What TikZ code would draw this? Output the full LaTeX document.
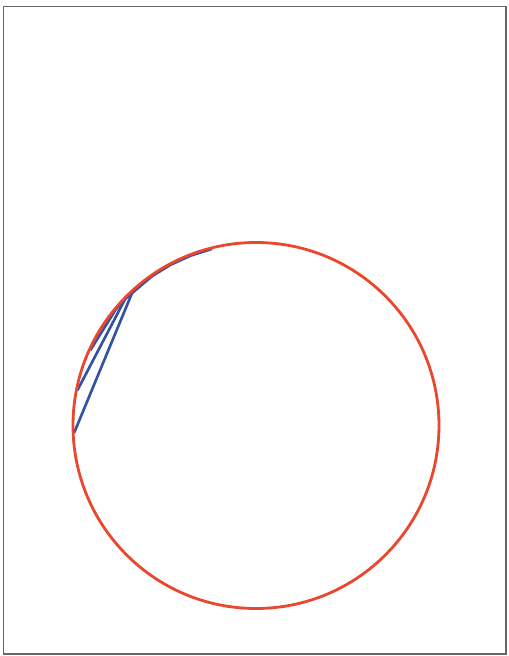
\documentclass[tikz,border=0pt]{standalone}
\usetikzlibrary{calc}
\definecolor{circred}{RGB}{234,72,46}
\definecolor{chordblue}{RGB}{52,82,162}
\begin{document}
\begin{tikzpicture}[
    x=0.02cm, y=0.02cm,
    % styles
    frame/.style={draw=black!60, line width=0.6pt},
    circ/.style={draw=circred, line width=1.6pt},
    chord/.style={draw=chordblue, line width=1.5pt, line join=round}
]
\useasboundingbox (0,0) rectangle (508,656);
\draw[frame] (3.5,2) rectangle (506,649.5);

% points on the circle
\coordinate (O) at (256,230.5);
\coordinate (p1) at ($(O)+(182.3:182)$);
\coordinate (p2) at ($(O)+(168.8:182)$);
\coordinate (p3) at ($(O)+(155.6:182)$);
\coordinate (q1) at ($(O)+(132.7:182)$);
\coordinate (q2) at ($(O)+(136.0:182)$);
\coordinate (q3) at ($(O)+(140.5:182)$);
\coordinate (r1) at ($(O)+(125:182)$);
\coordinate (r2) at ($(O)+(118:182)$);
\coordinate (r3) at ($(O)+(111:182)$);
\coordinate (s) at ($(O)+(104:182)$);

% chords
\draw[chord] (p1) -- (q1) -- (r1) -- (r2) -- (r3) -- (s);
\draw[chord] (p2) -- (q2) -- (r1);
\draw[chord] (p3) -- (q3) -- (q2);

% circle on top
\draw[circ] (O) circle (183);
\end{tikzpicture}
\end{document}
